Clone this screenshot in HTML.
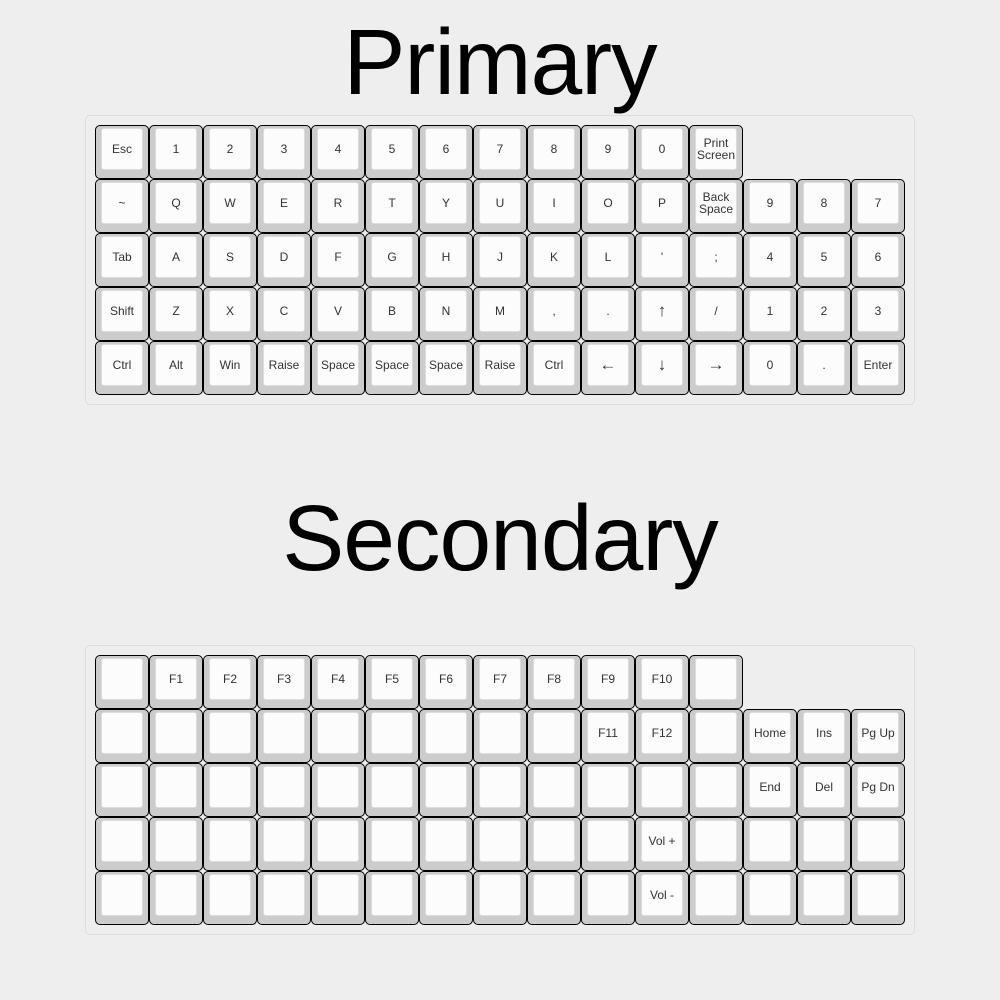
<!DOCTYPE html>
<html><head><meta charset="utf-8"><style>
body{margin:0;width:1000px;height:1000px;background:#eee;position:relative;overflow:hidden;font-family:"Liberation Sans",Arial,sans-serif}
.title{position:absolute;left:0;width:1000px;text-align:center;font-size:93px;line-height:1;color:#000;letter-spacing:-1px}
.panel{position:absolute;left:85px;width:830px;background:#eee;border:1px solid #ddd;border-radius:5px;box-sizing:border-box}
.key{position:absolute;width:54px;height:54px;box-sizing:border-box;border:1px solid #000;border-radius:5px;background:#ccc}
.cap{position:absolute;left:5px;top:2px;width:40px;height:40px;background:#fcfcfc;border:1px solid #ddd;border-radius:3px;display:flex;align-items:center;justify-content:center;text-align:center;font-size:12px;line-height:12px;color:#333}
.arrow{font-size:17px}
</style></head><body>
<div class="title" style="top:16px">Primary</div>
<div class="panel" style="top:115px;height:290px"></div>
<div class="title" style="top:492px">Secondary</div>
<div class="panel" style="top:645px;height:290px"></div>
<script>
const primaryRows=[
["Esc","1","2","3","4","5","6","7","8","9","0","Print<br>Screen"],
["~","Q","W","E","R","T","Y","U","I","O","P","Back<br>Space","9","8","7"],
["Tab","A","S","D","F","G","H","J","K","L","'",";","4","5","6"],
["Shift","Z","X","C","V","B","N","M",",",".","↑","/","1","2","3"],
["Ctrl","Alt","Win","Raise","Space","Space","Space","Raise","Ctrl","←","↓","→","0",".","Enter"]];
const secondaryRows=[
["","F1","F2","F3","F4","F5","F6","F7","F8","F9","F10",""],
["","","","","","","","","","F11","F12","","Home","Ins","Pg Up"],
["","","","","","","","","","","","","End","Del","Pg Dn"],
["","","","","","","","","","","Vol +","","","",""],
["","","","","","","","","","","Vol -","","","",""]];
function draw(rows,top,prefix){
rows.forEach((row,r)=>{row.forEach((lab,c)=>{
const k=document.createElement('div');k.className='key';
k.style.left=(95+c*54)+'px';k.style.top=(top+r*54)+'px';


const cap=document.createElement('div');cap.className='cap';cap.innerHTML=lab;
if("↑↓←→".includes(lab)&&lab.length===1)cap.classList.add('arrow');


k.appendChild(cap);document.body.appendChild(k);});});}
draw(primaryRows,125,'primary');
draw(secondaryRows,655,'secondary');
</script>
</body></html>
